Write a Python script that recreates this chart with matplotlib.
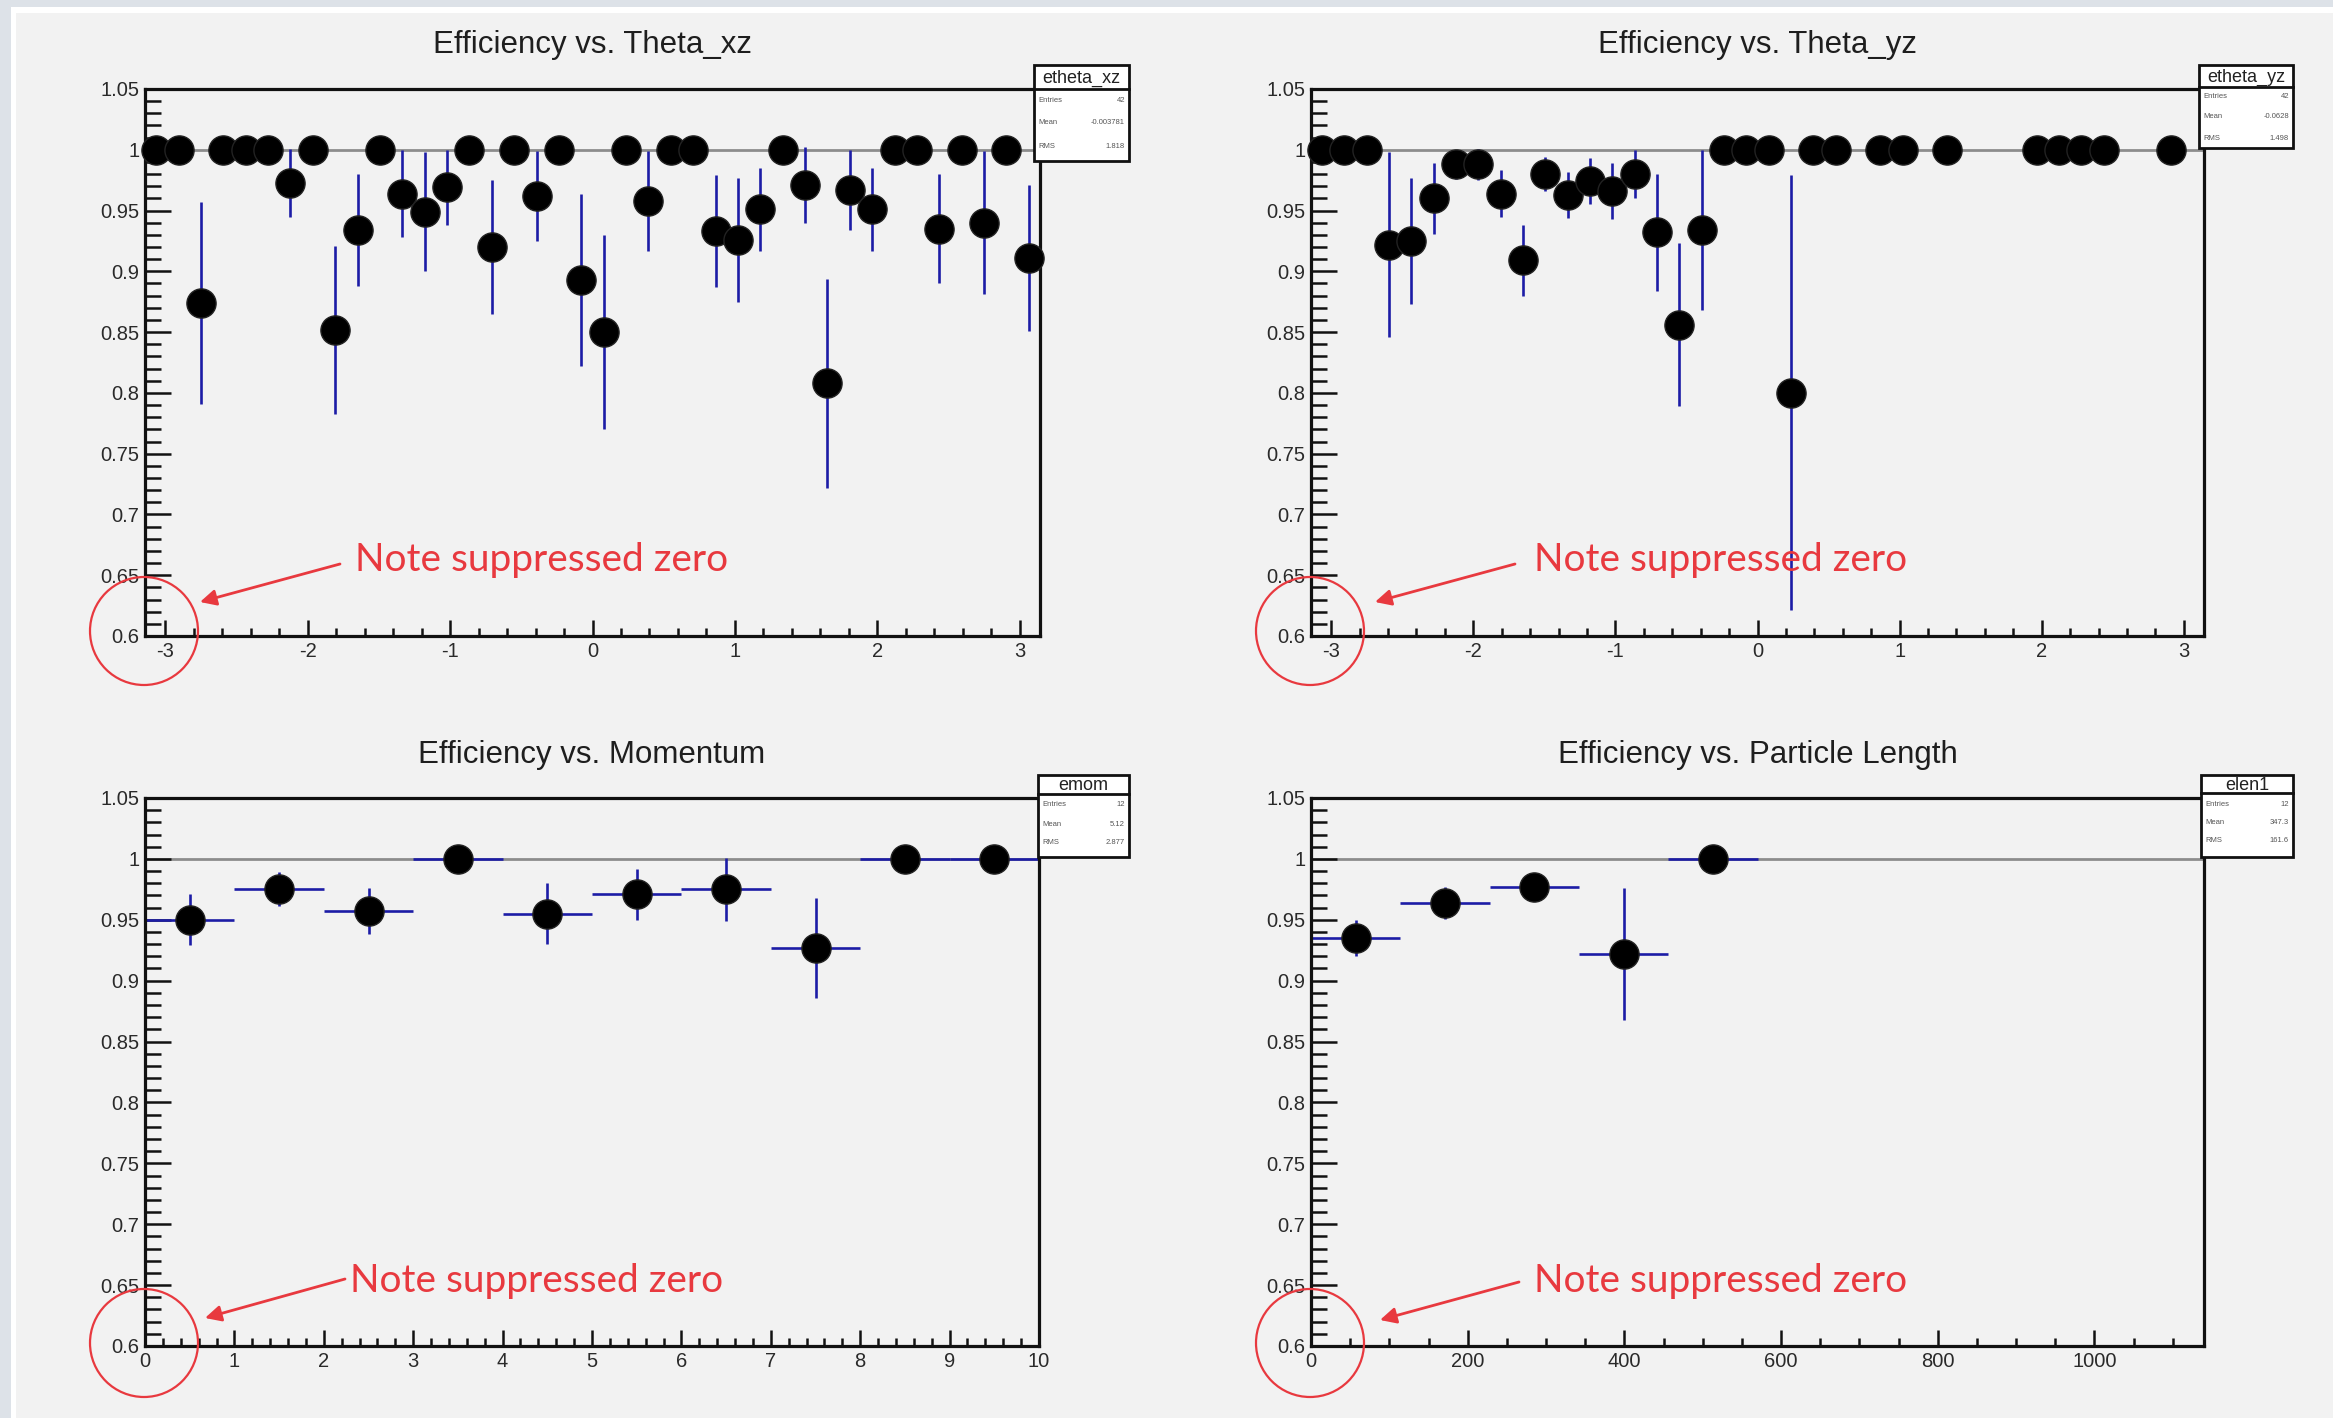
import numpy as np
import matplotlib
matplotlib.use("Agg")
import matplotlib.pyplot as plt
from matplotlib.ticker import MultipleLocator, FuncFormatter
from matplotlib.patches import Circle, Rectangle

# Figure size in pixels (dpi 100)
W, H = 2333, 1418
BG = '#f2f2f2'
RED = '#e8393f'
BLUE = '#1c1ca6'

# Efficiency vs. Theta_xz: 40 bins over [-pi, pi]
xz_range = (-np.pi, np.pi)
xz_eff = [1.0, 1.0, 0.874, 1.0, 1.0, 1.0, 0.973, 1.0, 0.852, 0.934,
          1.0, 0.964, 0.949, 0.969, 1.0, 0.920, 1.0, 0.962, 1.0, 0.893,
          0.850, 1.0, 0.958, 1.0, 1.0, 0.933, 0.926, 0.951, 1.0, 0.971,
          0.808, 0.967, 0.951, 1.0, 1.0, 0.935, 1.0, 0.940, 1.0, 0.911]
xz_err = [0, 0, 0.083, 0, 0, 0, 0.028, 0, 0.069, 0.046,
          0, 0.036, 0.049, 0.031, 0, 0.055, 0, 0.037, 0, 0.071,
          0.080, 0, 0.041, 0, 0, 0.046, 0.051, 0.034, 0, 0.031,
          0.086, 0.033, 0.034, 0, 0, 0.045, 0, 0.059, 0, 0.060]

# Efficiency vs. Theta_yz: 40 bins over [-pi, pi], empty bins are nan
nan = np.nan
yz_range = (-np.pi, np.pi)
yz_eff = [1.0, 1.0, 1.0, 0.922, 0.925, 0.960, 0.988, 0.988, 0.964, 0.909,
          0.980, 0.963, 0.974, 0.966, 0.980, 0.932, 0.856, 0.934, 1.0, 1.0,
          1.0, 0.800, 1.0, 1.0, nan, 1.0, 1.0, nan, 1.0, nan,
          nan, nan, 1.0, 1.0, 1.0, 1.0, nan, nan, 1.0, nan]
yz_err = [0, 0, 0, 0.076, 0.052, 0.029, 0.012, 0.013, 0.019, 0.029,
          0.014, 0.019, 0.019, 0.023, 0.020, 0.048, 0.067, 0.066, 0, 0,
          0, 0.179, 0, 0, 0, 0, 0, 0, 0, 0,
          0, 0, 0, 0, 0, 0, 0, 0, 0, 0]

# Efficiency vs. Momentum: 10 bins over [0, 10]
mom_range = (0, 10)
mom_eff = [0.950, 0.975, 0.957, 1.0, 0.955, 0.971, 0.975, 0.927, 1.0, 1.0]
mom_err = [0.021, 0.014, 0.019, 0, 0.025, 0.021, 0.026, 0.041, 0, 0]

# Efficiency vs. Particle Length: 10 bins over [0, 1140]
len_range = (0, 1140)
len_eff = [0.935, 0.964, 0.977, 0.922, 1.0, nan, nan, nan, nan, nan]
len_err = [0.015, 0.013, 0.007, 0.054, 0, 0, 0, 0, 0, 0]

titles = ['Efficiency vs. Theta_xz', 'Efficiency vs. Theta_yz',
          'Efficiency vs. Momentum', 'Efficiency vs. Particle Length']
stat_names = ['etheta_xz', 'etheta_yz', 'emom', 'elen1']
stat_entries = ['42', '42', '12', '12']
stat_means = ['-0.003781', '-0.0628', '5.12', '347.3']
stat_rms = ['1.818', '1.498', '2.877', '161.6']

plt.rcParams['font.family'] = ['Liberation Sans', 'DejaVu Sans']

fig = plt.figure(figsize=(W / 100, H / 100), dpi=100, facecolor=BG)


def px_rect(left, top, right, bottom):
    return [left / W, 1 - bottom / H, (right - left) / W, (bottom - top) / H]


def fmt_g(v, pos):
    return '%g' % round(v, 4)


def draw_panel(rect, rng, eff, err, major_x, minor_x):
    ax = fig.add_axes(rect)
    ax.set_facecolor(BG)
    eff = np.array(eff, dtype=float)
    err = np.array(err, dtype=float)
    nb = len(eff)
    edges = np.linspace(rng[0], rng[1], nb + 1)
    centers = 0.5 * (edges[:-1] + edges[1:])
    half = 0.5 * (edges[1] - edges[0])
    ok = ~np.isnan(eff)
    ax.axhline(1.0, color='#8c8c8c', lw=2, zorder=1)
    ax.errorbar(centers[ok], eff[ok], xerr=half, yerr=err[ok], fmt='none',
                ecolor=BLUE, elinewidth=1.9, capsize=0, zorder=2)
    ax.plot(centers[ok], eff[ok], 'o', color='black', ms=21, mec='#222222',
            mew=1.0, zorder=3, clip_on=False)
    ax.set_xlim(*rng)
    ax.set_ylim(0.6, 1.05)
    ax.yaxis.set_major_locator(MultipleLocator(0.05))
    ax.yaxis.set_minor_locator(MultipleLocator(0.01))
    ax.xaxis.set_major_locator(MultipleLocator(major_x))
    ax.xaxis.set_minor_locator(MultipleLocator(minor_x))
    ax.yaxis.set_major_formatter(FuncFormatter(fmt_g))
    ax.xaxis.set_major_formatter(FuncFormatter(fmt_g))
    for s in ax.spines.values():
        s.set_linewidth(2.3)
        s.set_color('#111111')
    ax.tick_params(axis='y', which='major', direction='in', length=19, width=1.8,
                   labelsize=14.5, pad=4, labelcolor='#2a2a2a', color='#111111')
    ax.tick_params(axis='y', which='minor', direction='in', length=11.5, width=1.8,
                   color='#111111')
    ax.tick_params(axis='x', which='major', direction='in', length=11.5, width=1.8,
                   labelsize=14.5, pad=4, labelcolor='#2a2a2a', color='#111111')
    ax.tick_params(axis='x', which='minor', direction='in', length=6, width=1.8,
                   color='#111111')
    return ax


# axes boxes in pixels: left, top, right, bottom
boxes = [(145, 89, 1040, 636), (1311, 89, 2204, 636),
         (145, 798, 1039, 1346), (1311, 798, 2204, 1346)]
draw_panel(px_rect(*boxes[0]), xz_range, xz_eff, xz_err, 1, 0.2)
draw_panel(px_rect(*boxes[1]), yz_range, yz_eff, yz_err, 1, 0.2)
draw_panel(px_rect(*boxes[2]), mom_range, mom_eff, mom_err, 1, 0.2)
draw_panel(px_rect(*boxes[3]), len_range, len_eff, len_err, 200, 50)

# overlay in pixel coordinates for titles, stat boxes and annotations
ov = fig.add_axes([0, 0, 1, 1], zorder=10)
ov.set_xlim(0, W)
ov.set_ylim(H, 0)
ov.axis('off')
ov.patch.set_alpha(0)

# canvas frame
ov.add_patch(Rectangle((0, 0), 11, H, color='#dde2e8', lw=0))
ov.add_patch(Rectangle((0, 0), W, 7, color='#dde2e8', lw=0))
ov.add_patch(Rectangle((11, 7), 5, H, color='white', lw=0))
ov.add_patch(Rectangle((11, 7), W, 6, color='white', lw=0))

title_y = [45, 45, 755, 755]
for (l, t, r, b), ty, title in zip(boxes, title_y, titles):
    ov.text((l + r) / 2, ty, title, ha='center', va='center', fontsize=22.5,
            color='#1e1e1e')

# stat boxes: left, top, right, divider, bottom, row positions
stat_boxes = [(1034, 65, 1129, 89, 161, (100, 123, 147)),
              (2199, 65, 2293, 87, 148, (96, 117, 138)),
              (1038, 775, 1129, 794, 857, (804, 824, 843)),
              (2201, 775, 2293, 793, 857, (804, 822, 841))]
for (l, t, r, d, b, rows), name, ent, mean, rms in zip(
        stat_boxes, stat_names, stat_entries, stat_means, stat_rms):
    ov.add_patch(Rectangle((l, t), r - l, b - t, facecolor='white',
                           edgecolor='#111111', lw=2))
    ov.plot([l, r], [d, d], color='#111111', lw=2)
    ov.text((l + r) / 2, (t + d) / 2 + 1, name, ha='center', va='center',
            fontsize=13, color='#222222')
    for yy, lab, val in zip(rows, ['Entries', 'Mean', 'RMS'], [ent, mean, rms]):
        ov.text(l + 4, yy, lab, ha='left', va='center', fontsize=5.5, color='#555555')
        ov.text(r - 4, yy, val, ha='right', va='center', fontsize=5.5, color='#555555')

# "Note suppressed zero" annotations
notes = [((355, 571), (340, 564), (200, 602), (144, 631)),
         ((1534, 571), (1515, 564), (1375, 602), (1310, 631)),
         ((350, 1292), (345, 1279), (205, 1318), (144, 1343)),
         ((1534, 1292), (1519, 1282), (1380, 1320), (1310, 1343))]
for txt, tail, head, ctr in notes:
    ov.text(txt[0], txt[1], 'Note suppressed zero', color=RED, fontsize=28,
            family=['Lato', 'DejaVu Sans'], fontweight='normal', va='baseline',
            ha='left')
    ov.annotate('', xy=head, xytext=tail,
                arrowprops=dict(arrowstyle='-|>', color=RED, lw=2,
                                mutation_scale=24, shrinkA=0, shrinkB=0))
    ov.add_patch(Circle(ctr, 54, fill=False, edgecolor=RED, lw=1.6))

fig.savefig('out.png', dpi=100, facecolor=BG)
